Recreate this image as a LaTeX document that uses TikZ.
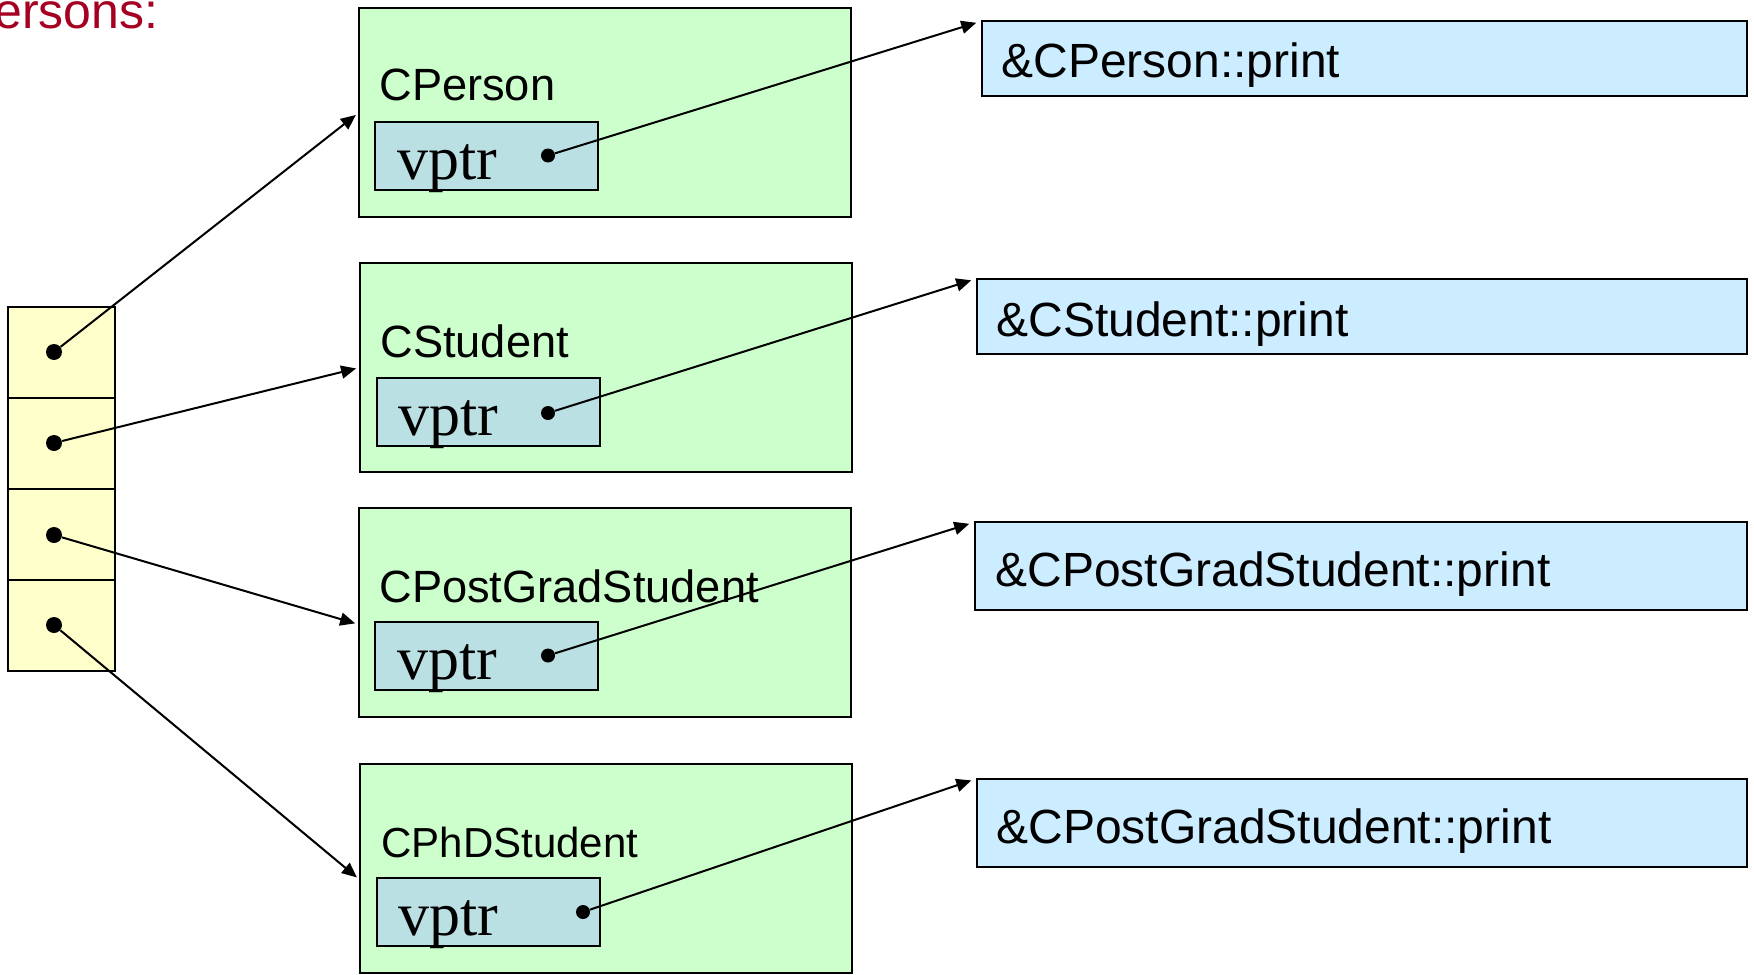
\documentclass[tikz,border=0pt]{standalone}
\usepackage{fontspec}
\setmainfont{Liberation Sans}
\newfontfamily\vfont{Liberation Serif}
\usetikzlibrary{arrows.meta}
\definecolor{objgreen}{HTML}{CCFFCC}
\definecolor{vptrfill}{HTML}{BBE0E3}
\definecolor{tblblue}{HTML}{CCECFF}
\definecolor{cellyellow}{HTML}{FFFFCC}
\definecolor{titlered}{HTML}{A50021}

\begin{document}
\begin{tikzpicture}[x=0.5pt,y=-0.5pt,
  box/.style={draw=black, line width=1pt, anchor=north west, inner sep=0pt, outer sep=0pt},
  objbox/.style={box, fill=objgreen, minimum width=246pt, minimum height=104.5pt},
  vbox/.style={box, fill=vptrfill, minimum width=111.5pt, minimum height=34pt},
  fbox/.style={box, fill=tblblue, minimum height=37.5pt},
  cell/.style={box, fill=cellyellow, minimum width=53.5pt, minimum height=45.5pt},
  adot/.style={circle, fill=black, inner sep=0pt, minimum size=8pt},
  vdot/.style={circle, fill=black, inner sep=0pt, minimum size=7pt},
  lbl/.style={anchor=base west, inner sep=0pt, font=\fontsize{22.6}{26}\selectfont},
  flbl/.style={anchor=base west, inner sep=0pt, font=\fontsize{24}{28}\selectfont},
  vlbl/.style={anchor=base west, inner sep=0pt, font=\vfont\fontsize{31}{36}\selectfont},
  arr/.style={line width=1pt, -{Triangle[length=7.5pt,width=6.5pt]}, shorten >=2pt},
]
\useasboundingbox (0,0) rectangle (1754,974);

% heading
\node[anchor=base west, inner sep=0pt, text=titlered, font=\fontsize{25}{29}\selectfont] (title) at (-6,29) {ersons:};

% array of pointers
\node[cell] (c1) at (8,307) {};
\node[cell] (c2) at (8,398) {};
\node[cell] (c3) at (8,489) {};
\node[cell] (c4) at (8,580) {};
\node[adot] (a1) at (54,352) {};
\node[adot] (a2) at (54,443) {};
\node[adot] (a3) at (54,535) {};
\node[adot] (a4) at (54,625) {};

% objects
\node[objbox] (o1) at (359,8) {};
\node[objbox] (o2) at (360,263) {};
\node[objbox] (o3) at (359,508) {};
\node[objbox] (o4) at (360,764) {};
\node[lbl] (n1) at (379,101) {CPerson};
\node[lbl] (n2) at (380,357) {CStudent};
\node[lbl] (n3) at (379,602) {CPostGradStudent};
\node[lbl, font=\fontsize{21}{25}\selectfont] (n4) at (381,857) {CPhDStudent};

% vptr fields
\node[vbox] (vb1) at (375,122) {};
\node[vbox] (vb2) at (377,378) {};
\node[vbox] (vb3) at (375,622) {};
\node[vbox] (vb4) at (377,878) {};
\node[vlbl] (t1) at (397,179) {vptr};
\node[vlbl] (t2) at (398,435) {vptr};
\node[vlbl] (t3) at (397,679) {vptr};
\node[vlbl] (t4) at (398,935) {vptr};
\node[vdot] (v1) at (548,155.5) {};
\node[vdot] (v2) at (548,413) {};
\node[vdot] (v3) at (548,655.5) {};
\node[vdot] (v4) at (583,912) {};

% function table entries
\node[fbox, minimum width=382.5pt] (f1) at (982,21) {};
\node[fbox, minimum width=385pt] (f2) at (977,278.5) {};
\node[fbox, minimum width=386pt, minimum height=44pt] (f3) at (975,522) {};
\node[fbox, minimum width=385pt, minimum height=44pt] (f4) at (977,778.5) {};
\node[flbl] (p1) at (1001,78) {\&CPerson::print};
\node[flbl] (p2) at (996,336) {\&CStudent::print};
\node[flbl] (p3) at (995,586) {\&CPostGradStudent::print};
\node[flbl] (p4) at (996,843) {\&CPostGradStudent::print};

% pointers to objects
\draw[arr] (a1) -- (o1.west);
\draw[arr] (a2) -- (o2.west);
\draw[arr] (a3) -- ([yshift=-6pt]o3.west);
\draw[arr] (a4) -- ([yshift=-5.75pt]o4.west);

% vptr links
\draw[arr, shorten >=3pt] (v1) -- (f1.north west);
\draw[arr, shorten >=3pt] (v2) -- (f2.north west);
\draw[arr, shorten >=3pt] (v3) -- (f3.north west);
\draw[arr, shorten >=3pt] (v4) -- (f4.north west);
\end{tikzpicture}
\end{document}
